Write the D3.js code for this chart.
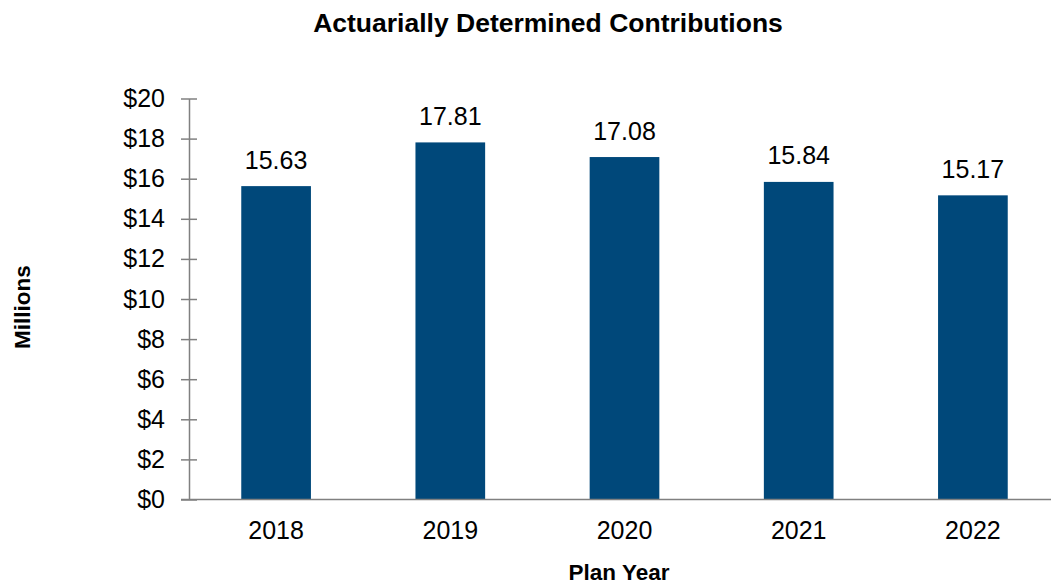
<!DOCTYPE html>
<html><head><meta charset="utf-8">
<script src="https://cdn.jsdelivr.net/npm/d3@7"></script>
<style>body{margin:0;background:#fff}svg{display:block}text{font-family:"Liberation Sans",Arial,sans-serif}</style>
</head><body>
<svg id="c" width="1051" height="585"></svg>
<script>
const years = ["2018","2019","2020","2021","2022"];
const values = [15.63, 17.81, 17.08, 15.84, 15.17];
const yTicks = [0,2,4,6,8,10,12,14,16,18,20];
const title = "Actuarially Determined Contributions";
const xTitle = "Plan Year";
const yTitle = "Millions";

(function(){
const svg = d3.select("#c");
const mLeft = 189, mRight = 1060, mTop = 98.5, mBottom = 499.5;
const x = d3.scaleBand().domain(years).range([mLeft, mRight]).paddingInner(0.6).paddingOuter(0.3);
const y = d3.scaleLinear().domain([0,20]).range([mBottom, mTop]);
const axisColor = "#808080";

svg.selectAll("rect.bar").data(values).join("rect").attr("class","bar")
  .attr("x",(d,i)=>x(years[i])).attr("width",x.bandwidth())
  .attr("y",d=>y(d)).attr("height",d=>y(0)-y(d)).attr("fill","#00487A");

const ya = svg.append("g").attr("transform",`translate(${mLeft},0)`)
  .call(d3.axisLeft(y).tickValues(yTicks).tickFormat(d=>"$"+d).tickSize(0).tickPadding(24));
ya.select(".domain").attr("stroke",axisColor).attr("stroke-width",1.5);
ya.selectAll(".tick text").attr("font-size",25).attr("fill","#000");
ya.selectAll(".tick").append("line").attr("x1",-8).attr("x2",8).attr("stroke",axisColor).attr("stroke-width",1.5);

const xa = svg.append("g").attr("transform",`translate(0,${mBottom})`)
  .call(d3.axisBottom(x).tickSize(0).tickPadding(22));
xa.select(".domain").attr("d",`M${mLeft-8},0H1051`).attr("stroke",axisColor).attr("stroke-width",1.5);
xa.selectAll(".tick text").attr("font-size",25).attr("fill","#000");

svg.selectAll("text.val").data(values).join("text").attr("class","val")
  .attr("x",(d,i)=>x(years[i])+x.bandwidth()/2).attr("y",d=>y(d)-17.5)
  .attr("text-anchor","middle").attr("font-size",25).attr("fill","#000")
  .text(d=>d.toFixed(2));

svg.append("text").attr("x",548).attr("y",32).attr("text-anchor","middle")
  .attr("font-size",26.5).attr("font-weight","bold").text(title);
svg.append("text").attr("x",619).attr("y",580).attr("text-anchor","middle")
  .attr("font-size",22.5).attr("font-weight","bold").text(xTitle);
svg.append("text").attr("transform","translate(30,307) rotate(-90)").attr("text-anchor","middle")
  .attr("font-size",22.5).attr("font-weight","bold").text(yTitle);
})();
</script>
</body></html>
